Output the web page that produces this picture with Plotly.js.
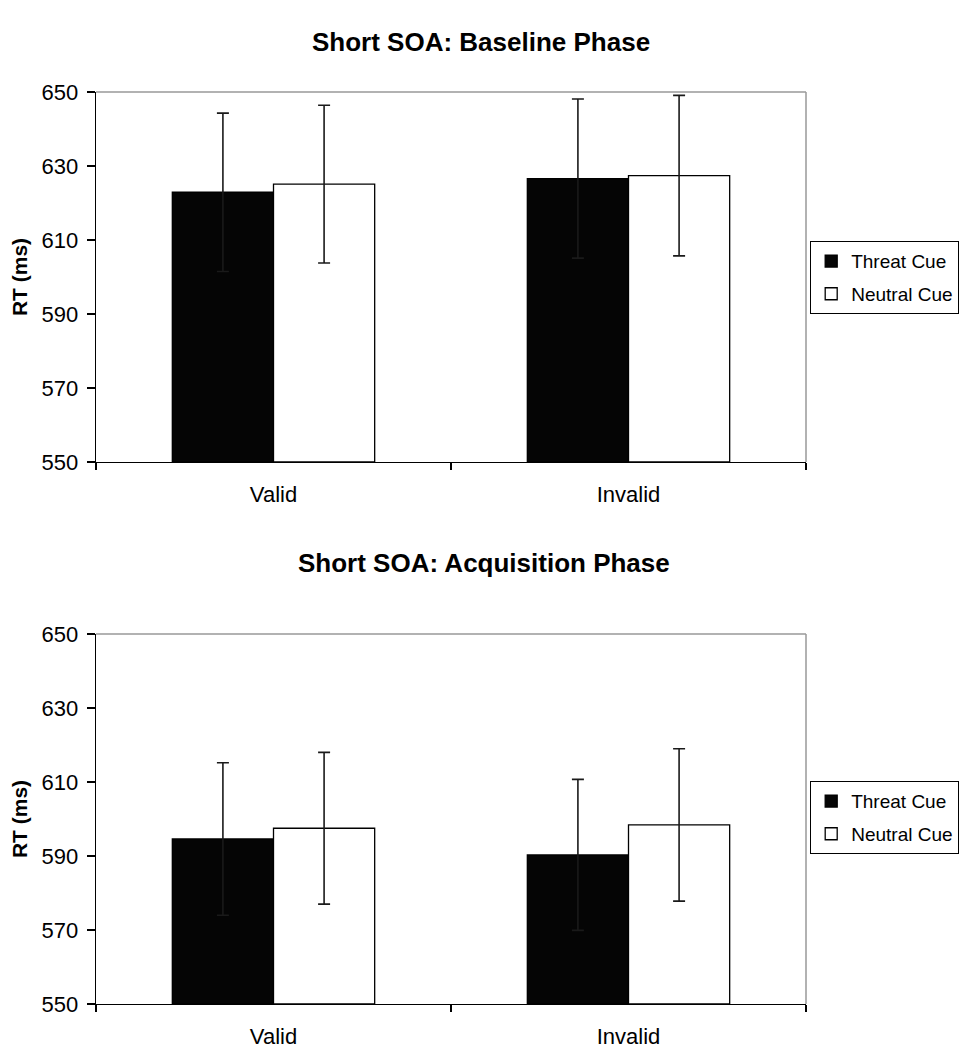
<!DOCTYPE html>
<html>
<head>
<meta charset="utf-8">
<script src="https://cdn.plot.ly/plotly-3.0.1.min.js"></script>
<style>
  html, body { margin: 0; padding: 0; background: #fff; }
  #chart { width: 966px; height: 1050px; }
</style>
</head>
<body>
<div id="chart"></div>
<script>
// ---- data ----
const categories = ["Valid", "Invalid"];
const seriesNames = ["Threat Cue", "Neutral Cue"];

const baselineThreat = [622.9, 626.6];
const baselineThreatErr = [21.4, 21.5];
const baselineNeutral = [625.1, 627.4];
const baselineNeutralErr = [21.3, 21.7];

const acquisitionThreat = [594.6, 590.3];
const acquisitionThreatErr = [20.6, 20.4];
const acquisitionNeutral = [597.5, 598.4];
const acquisitionNeutralErr = [20.5, 20.6];

const panelTitles = ["Short SOA: Baseline Phase", "Short SOA: Acquisition Phase"];
const yTitle = "RT (ms)";
const yTicks = [550, 570, 590, 610, 630, 650];
const yFloor = 550;

// ---- styling ----
const FONT = "Liberation Sans, Arial, sans-serif";
const errStyle = { type: "data", visible: true, color: "#1a1a1a", thickness: 1.6, width: 6 };

// bars start at the axis floor; heights are value minus floor
function heights(arr) { return arr.map(v => v - yFloor); }

function barTrace(name, y, err, xa, ya, fill, legend, group) {
  return {
    type: "bar", name: name, x: categories, y: heights(y),
    base: yFloor,
    xaxis: xa, yaxis: ya, legend: legend, legendgroup: group,
    marker: { color: fill, line: { color: "#000", width: 1.3 } },
    error_y: Object.assign({ array: err }, errStyle)
  };
}

const data = [
  barTrace(seriesNames[0], baselineThreat, baselineThreatErr, "x", "y", "#050505", "legend", "a1"),
  barTrace(seriesNames[1], baselineNeutral, baselineNeutralErr, "x", "y", "#ffffff", "legend", "a2"),
  barTrace(seriesNames[0], acquisitionThreat, acquisitionThreatErr, "x2", "y2", "#050505", "legend2", "b1"),
  barTrace(seriesNames[1], acquisitionNeutral, acquisitionNeutralErr, "x2", "y2", "#ffffff", "legend2", "b2")
];

function xAxis(anchor) {
  return {
    anchor: anchor, domain: [0, 1],
    type: "category",
    showline: true, linecolor: "#000", linewidth: 1.3,
    ticks: "outside", tickson: "boundaries", ticklen: 7, tickcolor: "#000", tickwidth: 1.3,
    showgrid: false, zeroline: false,
    ticklabelstandoff: 12,
    tickfont: { family: FONT, size: 22, color: "#000" },
    automargin: false,
    fixedrange: true
  };
}
function yAxis(anchor, dom) {
  return {
    anchor: anchor, domain: dom,
    range: [550, 650],
    tickvals: yTicks, ticktext: yTicks.map(String),
    showline: true, linecolor: "#000", linewidth: 1.3,
    ticks: "outside", ticklen: 8, tickcolor: "#000", tickwidth: 1.3,
    showgrid: false, zeroline: false,
    ticklabelstandoff: 4,
    tickfont: { family: FONT, size: 22, color: "#000" },
    title: { text: yTitle, font: { family: FONT, size: 21, color: "#000", weight: "bold" }, standoff: 8 },
    automargin: false,
    fixedrange: true
  };
}

const W = 966, H = 1050, mt = 92, mb = 46, plotH = H - mt - mb;
const topDom = [1 - 370 / plotH, 1];
const botDom = [0, 370 / plotH];

function border(xa, ya) {
  return [
    { type: "line", xref: xa + " domain", yref: ya + " domain", x0: 0, x1: 1, y0: 1, y1: 1, line: { color: "#999", width: 1.5 } },
    { type: "line", xref: xa + " domain", yref: ya + " domain", x0: 1, x1: 1, y0: 0, y1: 1, line: { color: "#999", width: 1.5 } }
  ];
}

function legendCfg(topPx) {
  return {
    xref: "container", yref: "container",
    x: 810 / W, y: 1 - topPx / H, xanchor: "left", yanchor: "top",
    bgcolor: "#fff", bordercolor: "#000", borderwidth: 1.2,
    font: { family: FONT, size: 19, color: "#000" },
    traceorder: "grouped", tracegroupgap: 5, itemwidth: 30
  };
}

const layout = {
  width: W, height: H,
  margin: { l: 96, r: 160, t: mt, b: mb, autoexpand: false },
  paper_bgcolor: "#fff", plot_bgcolor: "#fff",
  barmode: "group", bargap: 0.43, bargroupgap: 0,
  showlegend: true,
  xaxis: xAxis("y"),
  yaxis: yAxis("x", topDom),
  xaxis2: xAxis("y2"),
  yaxis2: yAxis("x2", botDom),
  legend: legendCfg(241),
  legend2: legendCfg(781),
  shapes: border("x", "y").concat(border("x2", "y2")),
  annotations: [
    { text: panelTitles[0], xref: "paper", yref: "paper", x: (481 - 96) / 710, y: (1004 - 42) / plotH,
      xanchor: "center", yanchor: "middle", showarrow: false,
      font: { family: FONT, size: 26, color: "#000", weight: "bold" } },
    { text: panelTitles[1], xref: "paper", yref: "paper", x: (484 - 96) / 710, y: (1004 - 563) / plotH,
      xanchor: "center", yanchor: "middle", showarrow: false,
      font: { family: FONT, size: 26, color: "#000", weight: "bold" } }
  ]
};

Plotly.newPlot("chart", data, layout, { displayModeBar: false, staticPlot: true });
</script>
</body>
</html>
